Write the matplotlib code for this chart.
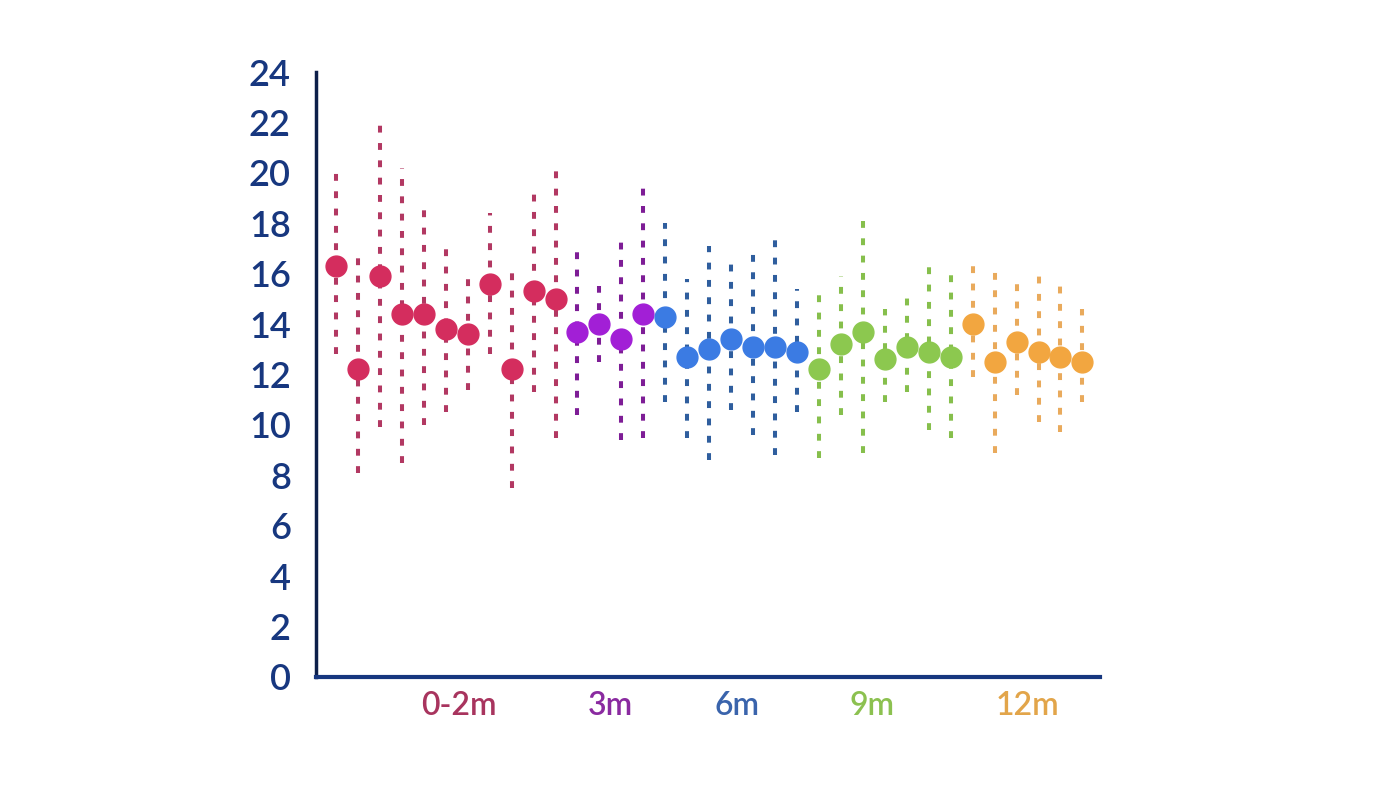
import matplotlib.pyplot as plt
import numpy as np

# group of each point, in plotting order
groups = ['0-2m'] * 11 + ['3m'] * 4 + ['6m'] * 7 + ['9m'] * 7 + ['12m'] * 6
means = [16.3, 12.2, 15.9, 14.4, 14.4, 13.8, 13.6, 15.6, 12.2, 15.3, 15.0,
         13.7, 14.0, 13.4, 14.4,
         14.3, 12.7, 13.0, 13.4, 13.1, 13.1, 12.9,
         12.2, 13.2, 13.7, 12.6, 13.1, 12.9, 12.7,
         14.0, 12.5, 13.3, 12.9, 12.7, 12.5]
upper = [20.1, 16.8, 22.0, 20.2, 18.7, 17.1, 15.8, 18.4, 16.3, 19.3, 20.3,
         16.9, 15.5, 17.5, 19.6,
         18.0, 15.8, 17.1, 16.5, 16.8, 17.6, 15.4,
         15.2, 15.9, 18.1, 14.6, 15.1, 16.3, 16.2,
         16.3, 16.3, 15.6, 16.1, 15.6, 14.6]
lower = [12.8, 8.1, 9.9, 8.5, 10.0, 10.5, 11.4, 12.8, 7.5, 11.3, 9.5,
         10.4, 12.5, 9.4, 9.5,
         10.9, 9.5, 8.6, 10.6, 9.6, 8.8, 10.5,
         8.7, 10.4, 8.9, 10.9, 11.3, 9.8, 9.5,
         11.9, 8.9, 11.2, 10.1, 9.7, 10.9]

group_names = ['0-2m', '3m', '6m', '9m', '12m']
label_pos = [5.6, 12.5, 18.25, 24.4, 31.5]

dot_colors = {'0-2m': '#d42d5e', '3m': '#a21fd6', '6m': '#3b7be3',
              '9m': '#8cc84f', '12m': '#f2a640'}
line_colors = {'0-2m': '#b23862', '3m': '#7e1d96', '6m': '#2f5e9e',
               '9m': '#86bf4c', '12m': '#e9aa5c'}
label_colors = {'0-2m': '#a8345e', '3m': '#8a2aa0', '6m': '#3a64ac',
                '9m': '#8cc150', '12m': '#e2a54a'}
axis_color = '#17377f'

plt.rcParams['font.family'] = ['Lato', 'DejaVu Sans']

fig = plt.figure(figsize=(14, 7.88), dpi=100)
ax = fig.add_axes([0.2257, 0.1409, 0.56, 0.7677])

x = np.arange(len(means))
for i in x:
    g = groups[i]
    ax.vlines(x[i], lower[i], upper[i], colors=line_colors[g], lw=2.9,
              linestyles=(0, (1.7, 2.6)), zorder=1)
    ax.plot(x[i], means[i], 'o', ms=15, color=dot_colors[g], zorder=2)

ax.set_xlim(-0.91, 34.8)
ax.set_ylim(0, 24)
ax.set_yticks(np.arange(0, 25, 2))
ax.set_yticklabels([str(v) for v in range(0, 25, 2)], fontweight='semibold')
ax.set_xticks(label_pos)
ax.set_xticklabels(group_names, fontsize=23, fontweight='semibold')
for lbl, g in zip(ax.get_xticklabels(), group_names):
    lbl.set_color(label_colors[g])
ax.tick_params(axis='y', length=0, pad=18, labelsize=26, labelcolor=axis_color)
ax.tick_params(axis='x', length=0, pad=10)

for side in ['top', 'right']:
    ax.spines[side].set_visible(False)
ax.spines['left'].set_color('#0d1f4a')
ax.spines['left'].set_linewidth(2.5)
ax.spines['bottom'].set_color(axis_color)
ax.spines['bottom'].set_linewidth(3)

fig.savefig('out.png', dpi=100)
